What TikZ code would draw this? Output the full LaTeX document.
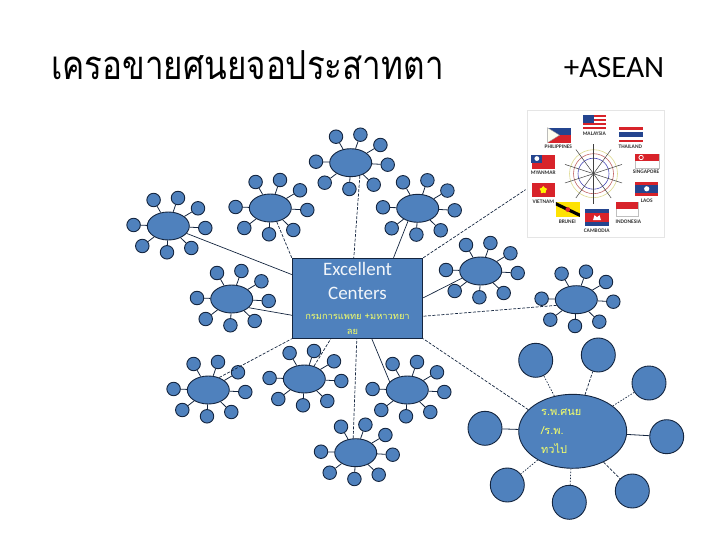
\documentclass[tikz,border=0pt]{standalone}
\usepackage{fontspec}
\setmainfont{Carlito}
\newfontfamily\thaifont[Script=Thai]{Loma}
\usetikzlibrary{calc,shapes.geometric,shadows}
\definecolor{hubblue}{HTML}{4F81BD}
\definecolor{hubline}{HTML}{14253F}
\definecolor{thaiyellow}{HTML}{F4FF6A}
\definecolor{flagred}{HTML}{D8232A}
\definecolor{flagblue}{HTML}{24458F}
\tikzset{hub/.style={ellipse, draw=hubline, line width=0.9pt, fill=hubblue, inner sep=0pt, minimum width=42pt, minimum height=28pt},
  sat/.style={circle, draw=hubline, line width=0.9pt, fill=hubblue, inner sep=0pt, minimum size=13.5pt},
  bigsat/.style={sat, minimum size=34pt},
  spoke/.style={line width=0.8pt, draw=hubline},
  link/.style={line width=0.7pt, draw=hubline},
  linkd/.style={link, dash pattern=on 3pt off 1.5pt},
  linkf/.style={link, dash pattern=on 1.5pt off 1.5pt},
  flaglabel/.style={font=\fontsize{5.4}{6}\selectfont\bfseries, text=black!80, inner sep=0pt},
  flagbox/.style={minimum width=23.5pt, minimum height=14.5pt, inner sep=0pt, fill=#1}}
\newcommand{\thaiyel}[2]{{\thaifont\fontsize{#1}{#1}\selectfont\textcolor{thaiyellow}{#2}}\hspace*{10pt}}

\begin{document}
\begin{tikzpicture}[x=1pt,y=-1pt]
  \useasboundingbox (0,0) rectangle (720,540);
  % headings
  \node[font=\thaifont\fontsize{40}{44}\selectfont, anchor=west, inner sep=0pt, xscale=.83, transform shape] (title) at (51,65) {เครอขายศนยจอประสาทตา};
  \node[font=\fontsize{31}{34}\selectfont, inner sep=0pt] (asean) at (614,68) {+ASEAN};
  % centre box
  \node[draw=hubline, line width=0.9pt, fill=hubblue, minimum width=130.5pt, minimum height=80pt, inner sep=0pt,
    align=center, font=\fontsize{19}{24.5}\selectfont, text=white!92!hubblue] (ctr) at (357.5,298.3)
    {Excellent\\Centers\\[-5pt]\thaiyel{9.3}{กรมการแพทย   +มหาวทยา}\\[-9pt]\thaiyel{9.3}{ลย}};
  % flag card
  \node[fill=white, draw=black!10, drop shadow={opacity=.35, shadow xshift=1pt, shadow yshift=-1pt}, minimum width=137.5pt, minimum height=126pt, inner sep=0pt] (card) at (595.5,173.7) {};
  \foreach \r/\c in {24/yellow!70!black!50, 20/red!60!black!60, 15.5/blue!60!black!70}
    \draw[line width=0.6pt, draw=\c] (card.center) ++(-2,0) circle (\r);
  \foreach \a in {0,36,...,324}
    \draw[line width=0.5pt, black!75] ($(card.center)+(-2,0)$) -- ++(\a+18:30);
  % flags
  \node[flagbox=white] (malaysia) at (594.7,122.8) {};
  \foreach \i in {0,1,...,3} \fill[flagred] ($(malaysia.north west)+(0,\i*3.9)$) rectangle ++(23.5,2);
  \fill[flagblue] (malaysia.north west) rectangle ++(11,8);
  \node[flagbox=flagblue] (philippines) at (559.5,135.2) {};
  \fill[flagred] (philippines.west) rectangle (philippines.south east);
  \fill[white!95!yellow, draw=black!40] (philippines.north west) -- (philippines.center) -- (philippines.south west) -- cycle;
  \node[flagbox=white] (thailand) at (631,134.8) {};
  \fill[flagred] (thailand.north west) rectangle ++(23.5,2.6);
  \fill[flagred] (thailand.south west) rectangle ++(23.5,-2.6);
  \fill[flagblue] ($(thailand.west)+(0,-2.6)$) rectangle ++(23.5,5.2);
  \node[flagbox=flagred] (myanmar) at (543.3,162) {};
  \fill[flagblue] (myanmar.north west) rectangle ++(11,8);
  \fill[white] ($(myanmar.north west)+(5.5,4)$) circle (2.4);
  \node[flagbox=white, draw=black!25, line width=0.3pt] (singapore) at (647,161.3) {};
  \fill[flagred] (singapore.north west) rectangle (singapore.east);
  \draw[white, line width=0.8pt] ($(singapore.north west)+(6,3.6)$) circle (2.2);
  \node[flagbox=flagred] (vietnam) at (543.3,190) {};
  \node[star, star points=5, fill=yellow, inner sep=0pt, minimum size=8pt] (vnstar) at (vietnam.center) {};
  \node[flagbox=flagred] (laos) at (646.7,188.8) {};
  \fill[flagblue] ($(laos.west)+(0,-3.8)$) rectangle ++(23.5,7.6);
  \fill[white] (laos.center) circle (2.6);
  \node[flagbox=yellow!85!orange] (brunei) at (567.8,209.5) {};
  \fill[black] (brunei.north west) -- ++(0,3.5) -- (brunei.south east) -- ++(0,-3.5) -- cycle;
  \fill[flagred] (brunei.center) circle (2.4);
  \node[flagbox=flagblue, minimum height=16.5pt] (cambodia) at (597,217.6) {};
  \fill[flagred] ($(cambodia.west)+(0,-4.4)$) rectangle ++(23.5,8.8);
  \fill[white] (cambodia.center) ++(-4,2.6) -- ++(1.5,-5) -- ++(2.5,2) -- ++(2.5,-2) -- ++(1.5,5) -- cycle;
  \node[flagbox=white, minimum width=22pt, draw=black!25, line width=0.3pt] (indonesia) at (627,209.4) {};
  \fill[flagred] (indonesia.north west) rectangle (indonesia.east);
  \foreach \nm/\x/\y in {MALAYSIA/594.3/134, PHILIPPINES/558.3/146.3, THAILAND/630.3/146.3, MYANMAR/543.3/173, SINGAPORE/646/172,
    VIETNAM/543.3/201.3, LAOS/646.7/200.7, BRUNEI/567.3/221.7, CAMBODIA/596.7/230.7, INDONESIA/628.3/221.3}
    \node[flaglabel] (lab\nm) at (\x,\y) {\nm};
  % small clusters
  \foreach \hb/\hx/\hy in {hubA/350.7/162.7, hubB/270.3/208, hubC/417.7/208.3, hubD/168.3/226, hubE/231.7/299, hubF/480.7/271,
    hubG/576.3/299.7, hubH/208.3/390, hubI/304.3/379, hubJ/407.3/390, hubK/355.7/452.7} {
    \node[hub] (\hb) at (\hx,\hy) {};
    \foreach \i/\dx/\dy in {1/-14.7/-26, 2/9.7/-28, 3/29.7/-17.7, 4/37/2, 5/23/22, 6/-1.3/26.3, 7/-26/20, 8/-34.7/-1} {
      \node[sat] (\hb-\i) at (\hx+\dx,\hy+\dy) {};
      \draw[spoke] (\hb) -- (\hb-\i);
    }
  }
  % large cluster
  \node[hub, minimum width=108pt, minimum height=74pt] (hubL) at (572.7,431.3) {};
  \node[font=\thaifont\fontsize{11}{19}\selectfont, text=thaiyellow, align=left, anchor=west, inner sep=0pt] (hubLtext) at (541,431) {ร.พ.ศนย\\/ร.พ.\\ทวไป};
  \foreach \i/\x/\y/\st in {1/535.7/360.3/linkf, 2/598.3/355/linkd, 3/649/383/linkf, 4/666.7/436.7/spoke,
    5/632.3/491/linkd, 6/569.3/502.3/linkf, 7/507.3/485/linkf, 8/485/428.3/spoke} {
    \node[bigsat] (big\i) at (\x,\y) {};
    \draw[\st] (hubL) -- (big\i);
  }
  % links to the centre box
  \draw[link] (hubD.-22) -- ($(ctr.north west)+(0,16.7)$);
  \draw[link] (hubE.-27) -- ($(ctr.north west)+(0,57.4)$);
  \draw[linkd] (hubB.-65) -- (ctr.north west);
  \draw[linkd] (hubA.-55) -- ($(ctr.north west)+(62,0)$);
  \draw[link] (hubC.233) -- ($(ctr.north west)+(101.7,0)$);
  \draw[linkd] (ctr.north east) -- ($(card.west)+(-1,16)$);
  \draw[link] (hubF.201) -- ($(ctr.north east)+(0,40)$);
  \draw[linkd] (hubG.196) -- ($(ctr.north east)+(0,58.4)$);
  \draw[linkd] (hubH.49) -- (ctr.south west);
  \draw[linkd] (hubI.53) -- ($(ctr.south west)+(39,0)$);
  \draw[linkd] (hubK.100) -- ($(ctr.south west)+(65,0)$);
  \draw[link] (hubJ.155) -- ($(ctr.south west)+(80,0)$);
  \draw[linkd] (hubL.154) -- (ctr.south east);
\end{tikzpicture}
\end{document}
